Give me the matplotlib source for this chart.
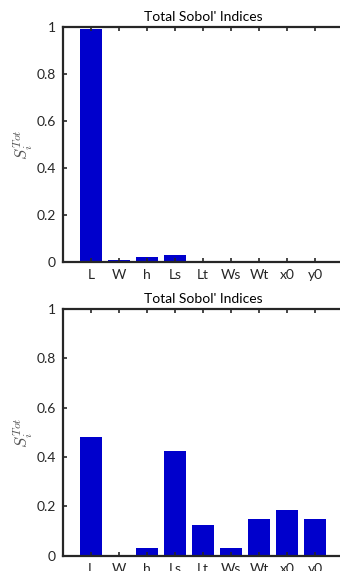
import matplotlib
matplotlib.use("Agg")
import matplotlib.pyplot as plt

#data
params = ["L", "W", "h", "Ls", "Lt", "Ws", "Wt", "x0", "y0"]
sobol_top = [0.99, 0.011, 0.023, 0.031, 0.0, 0.0, 0.0, 0.006, 0.0]
sobol_bottom = [0.482, 0.0, 0.031, 0.425, 0.124, 0.031, 0.149, 0.185, 0.149]
yticks = [0, 0.2, 0.4, 0.6, 0.8, 1]
ytick_labels = ["0", "0.2", "0.4", "0.6", "0.8", "1"]

plt.rcParams["font.family"] = ["Lato", "DejaVu Sans"]
plt.rcParams["mathtext.fontset"] = "cm"
dark = "#262626"

fig = plt.figure(figsize=(3.4, 5.71), dpi=100)
#right edge of the axes runs off the canvas, like the reference
ax1 = fig.add_axes([0.185, 0.541, 0.824, 0.412])
ax2 = fig.add_axes([0.185, 0.027, 0.824, 0.432])

for ax, vals in [(ax1, sobol_top), (ax2, sobol_bottom)]:
    x = list(range(1, len(params) + 1))
    ax.bar(x, vals, width=0.8, color="#0000CC")
    ax.set_xlim(0, 10)
    ax.set_ylim(0, 1)
    ax.set_xticks(x)
    ax.set_xticklabels(params)
    ax.set_yticks(yticks)
    ax.set_yticklabels(ytick_labels)
    ax.tick_params(direction="in", top=True, right=False, length=3, width=1.2,
                   labelsize=10, colors=dark, pad=5)
    for s in ax.spines.values():
        s.set_color(dark)
        s.set_linewidth(1.6)
    ax.spines["right"].set_visible(False)
    ax.set_title("Total Sobol' Indices", fontsize=10, color="black", pad=4)
    ax.set_ylabel(r"$S_i^{Tot}$", fontsize=12, color="#555555", labelpad=1)

fig.savefig("out.png", dpi=100)
